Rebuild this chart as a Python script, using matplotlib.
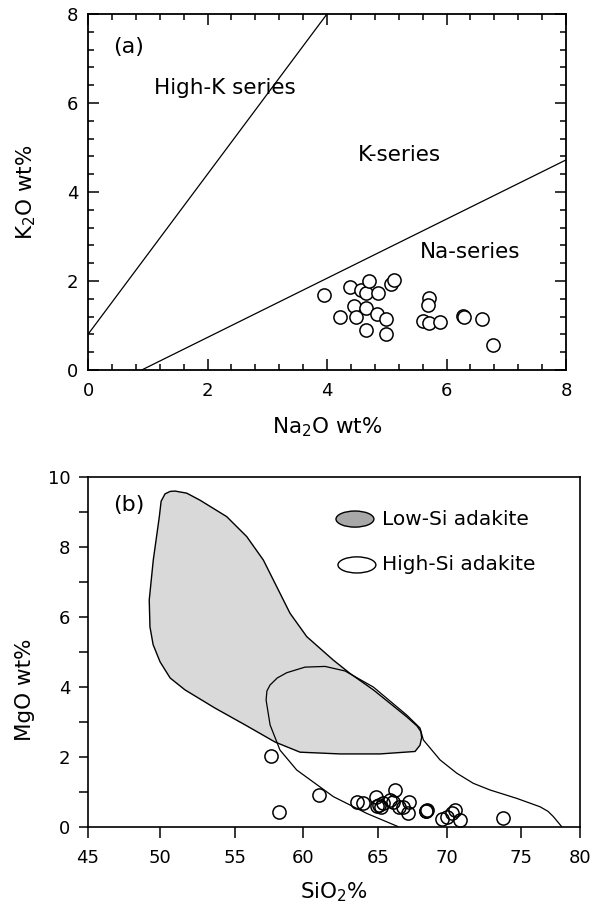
import numpy as np
import matplotlib
matplotlib.use("Agg")
import matplotlib.pyplot as plt
from matplotlib.patches import Ellipse, Polygon
from matplotlib.ticker import MultipleLocator

plt.rcParams["font.family"] = ["DejaVu Sans"]
plt.rcParams["mathtext.default"] = "regular"

# ---- (a) K2O vs Na2O ----
na2o = [3.95, 4.21, 4.38, 4.45, 4.49, 4.57, 4.65, 4.70, 4.66, 4.66, 4.85, 4.84,
        4.98, 4.98, 5.07, 5.12, 5.70, 5.69, 5.60, 5.70, 5.89, 6.28, 6.29, 6.60, 6.78]
k2o = [1.69, 1.20, 1.87, 1.44, 1.20, 1.80, 1.72, 2.00, 1.39, 0.90, 1.74, 1.25,
       1.14, 0.80, 1.93, 2.02, 1.61, 1.46, 1.10, 1.06, 1.07, 1.21, 1.18, 1.14, 0.55]

# series boundaries (Na2O, K2O end points)
highk_x = [0.0, 4.0]
highk_y = [0.8, 8.0]
naser_x = [0.9, 8.0]
naser_y = [0.0, 4.72]

# ---- (b) MgO vs SiO2 ----
sio2 = [57.65, 58.25, 61.07, 63.58, 63.98, 64.85, 64.91, 65.05, 65.19, 65.34,
        65.85, 66.21, 66.07, 66.50, 66.82, 67.23, 67.12, 68.45, 68.49, 68.45,
        69.60, 69.98, 70.32, 70.52, 70.83, 73.80]
mgo = [2.02, 0.41, 0.91, 0.71, 0.69, 0.86, 0.58, 0.62, 0.56, 0.68,
       0.76, 1.05, 0.71, 0.57, 0.57, 0.70, 0.40, 0.46, 0.48, 0.45,
       0.22, 0.29, 0.38, 0.48, 0.18, 0.26]

low_si_sio2 = [50.36, 50.70, 51.03, 51.81, 52.69, 54.47, 55.88, 57.09, 58.06, 59.03,
               60.23, 62.00, 63.11, 64.67, 67.06, 67.80, 68.08, 68.14, 68.02, 67.66,
               65.12, 62.44, 59.76, 57.94, 55.76, 53.69, 51.69, 50.70, 50.03, 49.55,
               49.33, 49.28, 49.56, 49.98, 50.10]
low_si_mgo = [9.51, 9.58, 9.59, 9.53, 9.33, 8.86, 8.29, 7.62, 6.86, 6.10,
              5.43, 4.76, 4.38, 3.91, 3.14, 2.88, 2.72, 2.55, 2.33, 2.15,
              2.08, 2.08, 2.13, 2.42, 2.91, 3.39, 3.91, 4.25, 4.71, 5.20,
              5.71, 6.48, 7.62, 8.86, 9.30]

high_si_sio2 = [66.45, 64.23, 62.00, 59.52, 58.30, 57.58, 57.29, 57.35, 57.58, 58.10,
                58.79, 60.11, 61.45, 62.78, 64.67, 67.06, 68.02, 68.26, 69.47, 70.64,
                71.77, 72.91, 74.73, 76.63, 77.30, 77.75, 78.46]
high_si_mgo = [0.00, 0.38, 0.86, 1.62, 2.19, 2.91, 3.62, 3.88, 4.05, 4.25,
               4.40, 4.56, 4.58, 4.45, 3.99, 3.19, 2.82, 2.48, 1.91, 1.53,
               1.24, 1.05, 0.81, 0.57, 0.44, 0.29, 0.00]

sio2_ticks = [45, 50, 55, 60, 65, 70, 75, 80]
# where each SiO2 tick sits along the hand-ruled axis (fraction of width)
sio2_tick_frac = [0.0, 0.1464, 0.2987, 0.4382, 0.5905, 0.7306, 0.8796, 1.0]

fig = plt.figure(figsize=(6.04, 9.07), dpi=100)
axa = fig.add_axes([0.1457, 0.5921, 0.7914, 0.3925])
axb = fig.add_axes([0.1449, 0.0885, 0.8154, 0.3859])

# ---------- panel (a) ----------
axa.plot(highk_x, highk_y, color="black", lw=0.9)
axa.plot(naser_x, naser_y, color="black", lw=0.9)
axa.plot(na2o, k2o, linestyle="none", marker="o", ms=9.5, mfc="white",
         mec="black", mew=1.1, zorder=3)
axa.set_xlim(0, 8)
axa.set_ylim(0, 8)
axa.xaxis.set_major_locator(MultipleLocator(2))
axa.yaxis.set_major_locator(MultipleLocator(2))
axa.xaxis.set_minor_locator(MultipleLocator(0.4))
axa.yaxis.set_minor_locator(MultipleLocator(0.4))
axa.tick_params(which="both", direction="in", top=True, right=True, width=1.1)
axa.tick_params(which="major", length=7.6)
axa.tick_params(which="minor", length=4)
axa.tick_params(axis="x", labelsize=13, pad=9)
axa.tick_params(axis="y", labelsize=13, pad=7)
for s in axa.spines.values():
    s.set_linewidth(1.3)
axa.set_xlabel("Na$_2$O wt%", fontsize=15.5, labelpad=11)
axa.set_ylabel("K$_2$O wt%", fontsize=15.5)
axa.yaxis.set_label_coords(-0.105, 0.5)

axa.text(0.42, 7.26, "(a)", fontsize=16, va="center", ha="left")
axa.text(2.29, 6.34, "High-K series", fontsize=15.5, va="center", ha="center")
axa.text(5.22, 4.83, "K-series", fontsize=15.5, va="center", ha="center")
axa.text(6.39, 2.66, "Na-series", fontsize=15.5, va="center", ha="center")

# ---------- panel (b) ----------
def _fwd(x):
    return np.interp(x, sio2_ticks, sio2_tick_frac)


def _inv(f):
    return np.interp(f, sio2_tick_frac, sio2_ticks)


axb.set_xscale("function", functions=(_fwd, _inv))
axb.set_xlim(45, 80)
axb.set_ylim(0, 10)

axb.add_patch(Polygon(np.column_stack([low_si_sio2, low_si_mgo]), closed=True,
                      facecolor="#d9d9d9", edgecolor="black", lw=1.0,
                      joinstyle="round", zorder=1))
axb.plot(high_si_sio2, high_si_mgo, color="black", lw=0.9,
         solid_joinstyle="round", zorder=2)
axb.plot(sio2, mgo, linestyle="none", marker="o", ms=9.5, mfc="none",
         mec="black", mew=1.1, zorder=3)

axb.set_xticks(sio2_ticks)
axb.set_xticks([], minor=True)
axb.yaxis.set_major_locator(MultipleLocator(2))
axb.yaxis.set_minor_locator(MultipleLocator(1))
axb.tick_params(axis="x", which="major", direction="out", length=8, width=1.1,
                labelsize=13, pad=8)
axb.tick_params(axis="y", which="both", direction="out", length=6.5, width=1.1,
                labelsize=13, pad=6)
for s in axb.spines.values():
    s.set_linewidth(1.2)
axb.set_xlabel("SiO$_2$%", fontsize=15.5, labelpad=10)
axb.set_ylabel("MgO wt%", fontsize=15.5)
axb.yaxis.set_label_coords(-0.107, 0.39)

axb.text(0.052, 0.919, "(b)", transform=axb.transAxes, fontsize=16,
         va="center", ha="left")

# legend swatches
axb.add_patch(Ellipse((0.543, 0.879), 0.077, 0.046, transform=axb.transAxes,
                      facecolor="#a8a8a8", edgecolor="black", lw=1.0))
axb.add_patch(Ellipse((0.547, 0.748), 0.077, 0.046, transform=axb.transAxes,
                      facecolor="white", edgecolor="black", lw=1.0))
axb.text(0.598, 0.879, "Low-Si adakite", transform=axb.transAxes,
         fontsize=14.5, va="center", ha="left")
axb.text(0.598, 0.748, "High-Si adakite", transform=axb.transAxes,
         fontsize=14.5, va="center", ha="left")

fig.savefig("out.png", dpi=100)
